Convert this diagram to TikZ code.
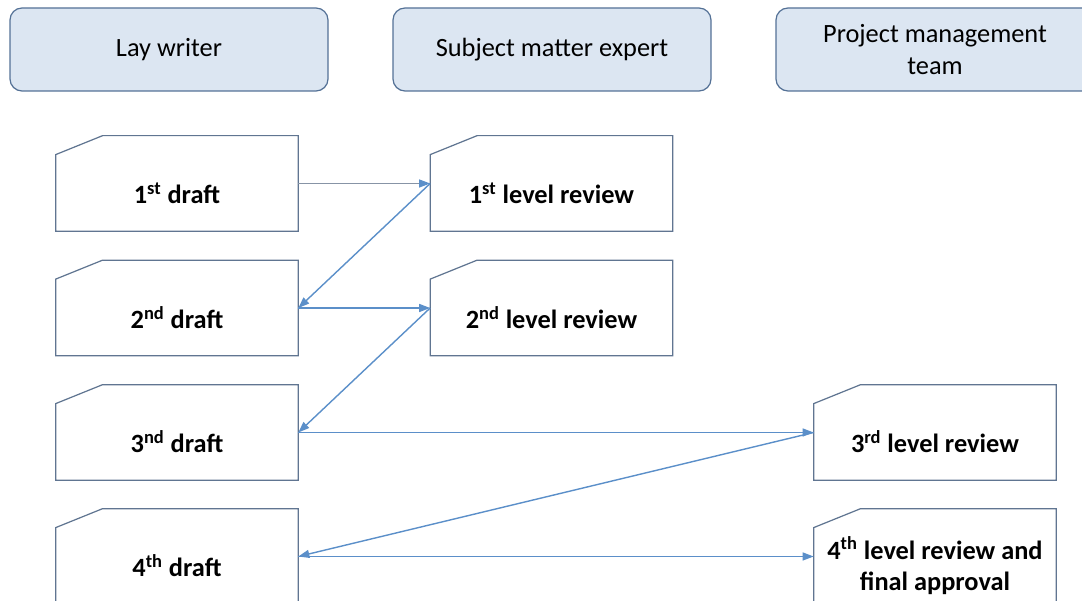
\documentclass[tikz,border=0pt]{standalone}
\usepackage{fontspec}
\setmainfont{Carlito}
\usetikzlibrary{arrows.meta, positioning}
\definecolor{headfill}{RGB}{220,230,242}
\definecolor{headline}{RGB}{84,113,150}
\definecolor{boxline}{RGB}{96,117,145}
\definecolor{flowblue}{RGB}{91,143,201}
\definecolor{flowgray}{RGB}{135,148,166}
\tikzset{
    lane/.style={
        rectangle, rounded corners=0.24cm, draw=headline, line width=0.7pt,
        fill=headfill, minimum width=6.36cm, minimum height=1.66cm,
        font=\fontsize{15}{18}\selectfont, align=center
    },
    stage/.style={
        rectangle, minimum width=4.84cm, minimum height=1.9cm
    },
    stageline/.style={draw=boxline, line width=0.7pt},
    stagetext/.style={font=\fontsize{15}{18}\selectfont\bfseries, align=center},
    flow/.style={draw=flowblue, line width=0.8pt, -{Triangle[length=2.2mm,width=1.6mm]}},
    flowfirst/.style={draw=flowgray, line width=0.6pt, -{Triangle[length=2.2mm,width=1.6mm,color=flowblue]}}
}

\begin{document}
\begin{tikzpicture}

\useasboundingbox (0,0) rectangle (21.64,12.02);
\clip (0,0) rectangle (21.64,12.02);

% Lanes
\node[lane] (writer) at (3.38,11.03) {Lay writer};
\node[lane] (expert) at (11.04,11.03) {Subject matter expert};
\node[lane] (pmt) at (18.70,11.03) {Project management\\team};

% Drafts
\node[stage] (d1) at (3.54,8.35) {};
\node[stagetext] (d1t) at (3.54,8.16) {1\textsuperscript{st} draft};

\node[stage] (d2) at (3.54,5.86) {};
\node[stagetext] (d2t) at (3.54,5.67) {2\textsuperscript{nd} draft};

\node[stage] (d3) at (3.54,3.37) {};
\node[stagetext] (d3t) at (3.54,3.18) {3\textsuperscript{nd} draft};

\node[stage] (d4) at (3.54,0.89) {};
\node[stagetext] (d4t) at (3.54,0.70) {4\textsuperscript{th} draft};

% Reviews
\node[stage] (r1) at (11.03,8.35) {};
\node[stagetext] (r1t) at (11.03,8.16) {1\textsuperscript{st} level review};

\node[stage] (r2) at (11.03,5.86) {};
\node[stagetext] (r2t) at (11.03,5.67) {2\textsuperscript{nd} level review};

\node[stage] (r3) at (18.70,3.37) {};
\node[stagetext] (r3t) at (18.70,3.18) {3\textsuperscript{rd} level review};

\node[stage] (r4) at (18.70,0.89) {};
\node[stagetext] (r4t) at (18.70,0.70) {4\textsuperscript{th} level review and\\final approval};

% Snipped outlines
\foreach \s in {d1,d2,d3,d4,r1,r2,r3,r4}
    \draw[stageline] ([yshift=-0.38cm]\s.north west) -- ([xshift=0.94cm]\s.north west)
        -- (\s.north east) -- (\s.south east) -- (\s.south west) -- cycle;

% Flow
\draw[flowfirst] (d1.east) -- (r1.west);
\draw[flow] (r1.west) -- (d2.east);
\draw[flow] (d2.east) -- (r2.west);
\draw[flow] (r2.west) -- (d3.east);
\draw[flow] (d3.east) -- (r3.west);
\draw[flow] (r3.west) -- (d4.east);
\draw[flow] (d4.east) -- (r4.west);

\end{tikzpicture}
\end{document}
